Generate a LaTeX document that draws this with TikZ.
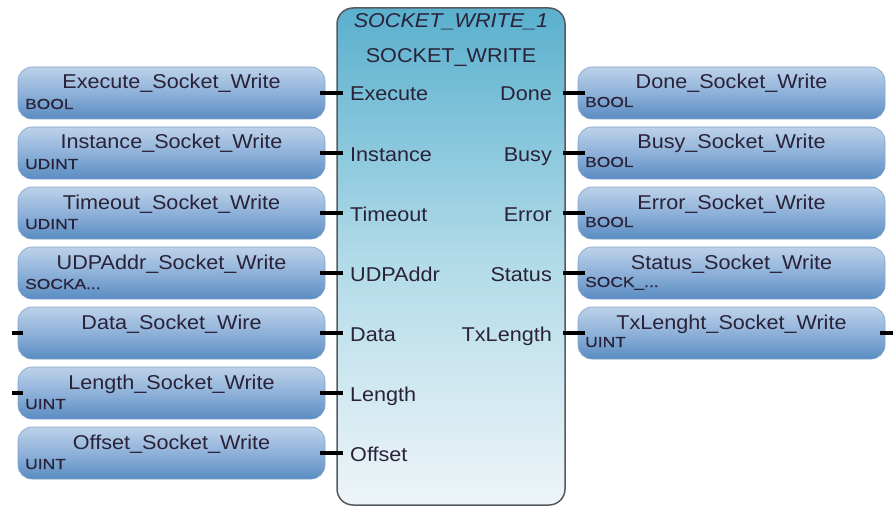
\documentclass[tikz,border=0pt]{standalone}
\usepackage{fontspec}
\setmainfont{Liberation Sans}
\newfontfamily\lblfont[FakeStretch=1.08]{Liberation Sans}
\newfontfamily\typfont[FakeStretch=1.2,FakeBold=0.6]{Liberation Sans}
\newcommand\mytdots{...}
\definecolor{txt}{HTML}{2A2238}
\definecolor{boxtop}{HTML}{BDD2EA}
\definecolor{boxmid}{HTML}{8EB1D9}
\definecolor{boxbot}{HTML}{5A8CC2}
\definecolor{boxedge}{HTML}{7FA3CD}
\definecolor{blktop}{HTML}{5AB0CE}
\definecolor{blkmid}{HTML}{B0DAE8}
\definecolor{blkbot}{HTML}{EEF5F8}
\definecolor{blkedge}{HTML}{555A60}
\begin{document}
\begin{tikzpicture}[x=1pt,y=-1pt,
  lbox/.style={rectangle, rounded corners=14pt, minimum width=307pt, minimum height=52pt,
    inner sep=0pt, top color=boxtop, bottom color=boxbot, middle color=boxmid,
    draw=boxedge, line width=0.6pt},
  blockbox/.style={rectangle, rounded corners=16pt, minimum width=228pt, minimum height=497pt,
    inner sep=0pt, top color=blktop, bottom color=blkbot, middle color=blkmid,
    draw=blkedge, line width=1.5pt},
  nametxt/.style={inner sep=0pt, text=txt, font=\lblfont\fontsize{20}{24}\selectfont},
  pintxt/.style={inner sep=0pt, text=txt, font=\lblfont\fontsize{20}{24}\selectfont},
  typetxt/.style={inner sep=0pt, text=txt, font=\typfont\fontsize{14.5}{16}\selectfont},
  stub/.style={line width=3.5pt, black, line cap=butt}]
\useasboundingbox (0,0) rectangle (894,508);

% function block
\node[blockbox] (blk) at (451,256.5) {};
\node[nametxt, anchor=base, font=\lblfont\itshape\fontsize{20}{24}\selectfont] (inst) at (451,28) {SOCKET\_WRITE\_1};
\node[nametxt, anchor=base] (ftype) at (451,63) {SOCKET\_WRITE};

% inputs
\foreach \i/\nm/\ty/\pn in {
  0/Execute\_Socket\_Write/BOOL/Execute,
  1/Instance\_Socket\_Write/UDINT/Instance,
  2/Timeout\_Socket\_Write/UDINT/Timeout,
  3/UDPAddr\_Socket\_Write/SOCKA\mytdots/UDPAddr,
  4/Data\_Socket\_Wire/{}/Data,
  5/Length\_Socket\_Write/UINT/Length,
  6/Offset\_Socket\_Write/UINT/Offset} {
  \pgfmathsetmacro\ry{93+60*\i}
  \node[lbox] (L\i) at (171.5,\ry) {};
  \node[nametxt, anchor=base] (Ln\i) at (171.5,\ry-4) {\nm};
  \node[typetxt, anchor=base west] (Lt\i) at (25,\ry+16) {\ty};
  \node[pintxt, anchor=base west] (Lp\i) at (350,\ry+8) {\pn};
  \coordinate (Lc\i) at (343,\ry);
  \draw[stub] ([xshift=-5pt]L\i.east) -- (Lc\i);
}

% outputs
\foreach \i/\nm/\ty/\pn in {
  0/Done\_Socket\_Write/BOOL/Done,
  1/Busy\_Socket\_Write/BOOL/Busy,
  2/Error\_Socket\_Write/BOOL/Error,
  3/Status\_Socket\_Write/SOCK\_\mytdots/Status,
  4/TxLenght\_Socket\_Write/UINT/TxLength} {
  \pgfmathsetmacro\ry{93+60*\i}
  \node[lbox] (R\i) at (731.5,\ry) {};
  \node[nametxt, anchor=base] (Rn\i) at (731.5,\ry-4) {\nm};
  \node[typetxt, anchor=base west] (Rt\i) at (585,\ry+14) {\ty};
  \node[pintxt, anchor=base east] (Rp\i) at (552,\ry+8) {\pn};
  \coordinate (Rc\i) at (563,\ry);
  \draw[stub] (Rc\i) -- ([xshift=7pt]R\i.west);
}

% free wire ends
\coordinate (Dfree) at (12,333);
\coordinate (Lfree) at (12,393);
\coordinate (Tfree) at (893,333);
\draw[stub] (Dfree) -- ([xshift=5pt]L4.west);
\draw[stub] (Lfree) -- ([xshift=5pt]L5.west);
\draw[stub] ([xshift=-5pt]R4.east) -- (Tfree);
\end{tikzpicture}
\end{document}
